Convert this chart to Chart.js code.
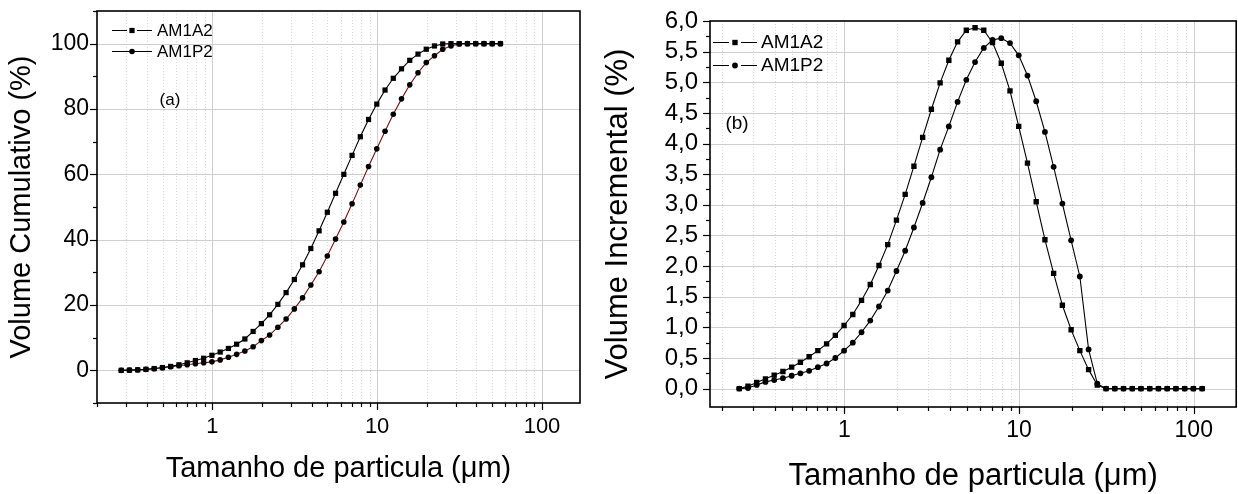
<!DOCTYPE html>
<html>
<head>
<meta charset="utf-8">
<script src="https://cdn.jsdelivr.net/npm/chart.js@4/dist/chart.umd.min.js"></script>
<style>
html,body{margin:0;padding:0;background:#fff;overflow:hidden;width:1238px;height:494px;}
#wa{position:absolute;left:0;top:0;width:600px;height:494px;}
#wb{position:absolute;left:600px;top:0;width:640px;height:494px;}
canvas{display:block;}
</style>
</head>
<body>
<div id="wa"><canvas id="ca" width="600" height="494"></canvas></div>
<div id="wb"><canvas id="cb" width="640" height="494"></canvas></div>
<script>
// ---------- data ----------
const seriesNames = ['AM1A2', 'AM1P2'];

// (a) cumulative volume
const sizesA = [0.2805, 0.3147, 0.3531, 0.3962, 0.4446, 0.4988, 0.5597, 0.6280, 0.7046, 0.7906,
  0.8871, 0.9953, 1.117, 1.253, 1.406, 1.577, 1.770, 1.986, 2.228, 2.500,
  2.805, 3.147, 3.531, 3.962, 4.446, 4.988, 5.597, 6.280, 7.046, 7.906,
  8.871, 9.953, 11.17, 12.53, 14.06, 15.77, 17.70, 19.86, 22.28, 25.00,
  28.05, 31.47, 35.31, 39.62, 44.46, 49.88, 55.97];
const cumAM1A2 = [0.0, 0.05, 0.15, 0.3, 0.55, 0.85, 1.2, 1.7, 2.3, 3.0,
  3.7, 4.6, 5.6, 6.7, 8.0, 9.6, 11.9, 14.3, 17.0, 20.2,
  23.8, 27.8, 32.3, 37.3, 42.7, 48.4, 54.2, 60.0, 65.8, 71.5,
  76.8, 81.5, 85.8, 89.4, 92.3, 94.9, 96.8, 98.3, 99.3, 99.9,
  100, 100, 100, 100, 100, 100, 100];
const cumAM1P2 = [0.0, 0.05, 0.15, 0.3, 0.5, 0.8, 1.1, 1.4, 1.7, 2.0,
  2.3, 2.6, 3.2, 4.0, 4.9, 5.9, 7.2, 9.1, 10.8, 13.2,
  15.7, 18.8, 22.2, 26.1, 30.2, 35.0, 40.2, 45.4, 51.0, 56.7,
  62.4, 67.8, 73.2, 78.4, 83.1, 87.4, 91.1, 94.2, 96.3, 98.3,
  99.3, 99.9, 100, 100, 100, 100, 100];

// (b) incremental volume
const sizesB = [0.25, 0.2805, 0.3147, 0.3531, 0.3962, 0.4446, 0.4988, 0.5597, 0.6280, 0.7046,
  0.7906, 0.8871, 0.9953, 1.117, 1.253, 1.406, 1.577, 1.770, 1.986, 2.228,
  2.500, 2.805, 3.147, 3.531, 3.962, 4.446, 4.988, 5.597, 6.280, 7.046,
  7.906, 8.871, 9.953, 11.17, 12.53, 14.06, 15.77, 17.70, 19.86, 22.28,
  25.00, 28.05, 31.47, 35.31, 39.62, 44.46, 49.88, 55.97, 62.80, 70.46,
  79.06, 88.71, 99.53, 111.7];
const incAM1A2 = [0.00, 0.04, 0.10, 0.16, 0.22, 0.28, 0.35, 0.43, 0.52, 0.62,
  0.73, 0.87, 1.03, 1.21, 1.44, 1.70, 2.01, 2.35, 2.75, 3.17,
  3.63, 4.10, 4.56, 4.99, 5.36, 5.66, 5.85, 5.89, 5.85, 5.65,
  5.31, 4.86, 4.28, 3.68, 3.05, 2.43, 1.88, 1.36, 0.96, 0.62,
  0.31, 0.06, 0, 0, 0, 0, 0, 0, 0, 0,
  0, 0, 0, 0];
const incAM1P2 = [0.00, 0.01, 0.06, 0.11, 0.14, 0.17, 0.21, 0.25, 0.29, 0.35,
  0.41, 0.50, 0.62, 0.75, 0.92, 1.11, 1.34, 1.60, 1.92, 2.25,
  2.63, 3.03, 3.45, 3.90, 4.28, 4.68, 5.04, 5.33, 5.56, 5.69,
  5.72, 5.64, 5.44, 5.11, 4.69, 4.19, 3.62, 3.02, 2.42, 1.83,
  0.64, 0.08, 0, 0, 0, 0, 0, 0, 0, 0,
  0, 0, 0, 0];

// axis ticks
const xTickValues = [0.2, 0.3, 0.4, 0.5, 0.6, 0.7, 0.8, 0.9, 1, 2, 3, 4, 5, 6, 7, 8, 9,
  10, 20, 30, 40, 50, 60, 70, 80, 90, 100];
const xTickLabels = [1, 10, 100];

// ---------- helpers ----------
const FONT = '"Liberation Sans", Arial, Helvetica, sans-serif';
const pts = (xs, ys) => xs.map((v, i) => ({x: v, y: ys[i]}));
const isMajorX = v => xTickLabels.some(m => Math.abs(m - v) < 1e-9);

function framePlugin(o) {
  return {
    id: 'frame_' + o.name,
    beforeDatasetsDraw(chart) {
      const {ctx, chartArea: a, scales: {x, y}} = chart;
      ctx.save();
      ctx.lineWidth = 1;
      x.ticks.forEach(t => {
        if (t.value <= x.min || t.value >= x.max) return;
        const p = Math.round(x.getPixelForValue(t.value)) + 0.5;
        const major = isMajorX(t.value);
        ctx.strokeStyle = major ? '#cfcfcf' : '#dcdcdc';
        ctx.setLineDash(major ? [] : [1, 2]);
        ctx.beginPath(); ctx.moveTo(p, a.top); ctx.lineTo(p, a.bottom); ctx.stroke();
      });
      ctx.setLineDash([]);
      ctx.strokeStyle = '#cfcfcf';
      y.ticks.forEach(t => {
        if (!o.isMajorY(t.value) || t.value <= y.min || t.value >= y.max) return;
        const p = Math.round(y.getPixelForValue(t.value)) + 0.5;
        ctx.beginPath(); ctx.moveTo(a.left, p); ctx.lineTo(a.right, p); ctx.stroke();
      });
      ctx.restore();
    },
    afterDatasetsDraw(chart) {
      const {ctx, chartArea: a, scales: {x, y}} = chart;
      ctx.save();
      ctx.strokeStyle = '#000';
      ctx.lineWidth = o.axisWidth;
      ctx.strokeRect(a.left, a.top, a.right - a.left, a.bottom - a.top);
      ctx.lineWidth = 1.2;
      x.ticks.forEach(t => {
        if (t.value < x.min || t.value > x.max) return;
        const p = Math.round(x.getPixelForValue(t.value)) + 0.5;
        const len = isMajorX(t.value) ? 7 : 4;
        ctx.beginPath(); ctx.moveTo(p, a.bottom); ctx.lineTo(p, a.bottom + len); ctx.stroke();
      });
      y.ticks.forEach(t => {
        if (t.value < y.min || t.value > y.max) return;
        const p = Math.round(y.getPixelForValue(t.value)) + 0.5;
        const len = o.isMajorY(t.value) ? 7 : 4;
        ctx.beginPath(); ctx.moveTo(a.left, p); ctx.lineTo(a.left - len, p); ctx.stroke();
      });
      // legend
      ctx.fillStyle = '#000';
      ctx.font = o.legend.size + 'px ' + FONT;
      ctx.textBaseline = 'middle';
      ctx.textAlign = 'left';
      chart.data.datasets.forEach((ds, i) => {
        const L = o.legend;
        const yy = L.y + i * L.dy;
        const xm = L.x + L.len / 2;
        ctx.strokeStyle = '#000';
        ctx.lineWidth = 1.2;
        ctx.beginPath();
        if (L.gap[i]) {
          ctx.moveTo(L.x, yy + 0.5); ctx.lineTo(xm - L.gap[i], yy + 0.5);
          ctx.moveTo(xm + L.gap[i], yy + 0.5); ctx.lineTo(L.x + L.len, yy + 0.5);
        } else {
          ctx.moveTo(L.x, yy + 0.5); ctx.lineTo(L.x + L.len, yy + 0.5);
        }
        ctx.stroke();
        if (ds.pointStyle === 'rect') {
          const s = ds.pointRadius * Math.SQRT1_2;
          ctx.fillRect(xm - s, yy + 0.5 - s, 2 * s, 2 * s);
        } else {
          ctx.beginPath(); ctx.arc(xm, yy + 0.5, ds.pointRadius, 0, Math.PI * 2); ctx.fill();
        }
        ctx.fillText(ds.label, L.x + L.len + L.textGap, yy + 1);
      });
      // panel tag
      ctx.font = o.tag.size + 'px ' + FONT;
      ctx.textAlign = 'center';
      ctx.fillText(o.tag.text, o.tag.x, o.tag.y);
      ctx.restore();
    }
  };
}

function makeChart(id, cfg) {
  return new Chart(document.getElementById(id), {
    type: 'line',
    data: {
      datasets: [
        {label: seriesNames[0], data: cfg.d1, borderColor: '#000', borderWidth: 1.1,
         pointStyle: 'rect', pointRadius: cfg.sq, pointBackgroundColor: '#000', pointBorderWidth: 0,
         pointHoverRadius: cfg.sq, tension: 0},
        {label: seriesNames[1], data: cfg.d2, borderColor: cfg.c2, borderWidth: 1.1,
         pointStyle: 'circle', pointRadius: cfg.ci, pointBackgroundColor: '#000', pointBorderWidth: 0,
         pointHoverRadius: cfg.ci, tension: 0}
      ]
    },
    options: {
      responsive: false,
      animation: false,
      events: [],
      layout: {padding: {top: cfg.padTop, right: cfg.padRight, left: 0, bottom: 0}},
      plugins: {legend: {display: false}, tooltip: {enabled: false}},
      scales: {
        x: {
          type: 'logarithmic', min: cfg.xmin, max: cfg.xmax,
          afterBuildTicks: s => { s.ticks = xTickValues.map(v => ({value: v})); },
          afterFit: s => { s.height = cfg.xAxisH; s.paddingLeft = 0; s.paddingRight = 0; },
          grid: {display: true, drawOnChartArea: false, drawTicks: false, color: 'rgba(0,0,0,0)'},
          border: {display: false},
          ticks: {autoSkip: false, maxRotation: 0, minRotation: 0, padding: cfg.xPad, color: '#000',
                  font: {family: FONT, size: cfg.xFont},
                  callback: v => isMajorX(v) ? String(v) : ''},
          title: {display: true, text: 'Tamanho de particula (\u03bcm)', color: '#000',
                  font: {family: FONT, size: cfg.titleFont, lineHeight: 1},
                  padding: {top: 0, bottom: cfg.xTitlePad}}
        },
        y: {
          type: 'linear', min: cfg.ymin, max: cfg.ymax,
          afterBuildTicks: s => { s.ticks = s.ticks.filter(t => Math.abs(t.value / cfg.yMinor - Math.round(t.value / cfg.yMinor)) < 1e-6); },
          afterFit: s => { s.width = cfg.yAxisW; s.paddingTop = 0; s.paddingBottom = 0; },
          grid: {display: true, drawOnChartArea: false, drawTicks: false, color: 'rgba(0,0,0,0)'},
          border: {display: false},
          ticks: {stepSize: cfg.yMinor, autoSkip: false, padding: cfg.yPad, color: '#000',
                  font: {family: FONT, size: cfg.yFont},
                  callback: v => cfg.isMajorY(v) ? cfg.fmtY(v) : ''},
          title: {display: true, text: cfg.yTitle, color: '#000',
                  font: {family: FONT, size: cfg.titleFont, lineHeight: 1},
                  padding: {top: cfg.yTitlePad, bottom: 0}}
        }
      }
    },
    plugins: [framePlugin({name: id, isMajorY: cfg.isMajorY, axisWidth: 1.6,
                           legend: cfg.legend, tag: cfg.tag})]
  });
}

const majA = v => Math.abs(v / 20 - Math.round(v / 20)) < 1e-6 && v >= 0 && v <= 100;
const majB = v => Math.abs(v * 2 - Math.round(v * 2)) < 1e-6 && v >= 0 && v <= 6;

makeChart('ca', {
  d1: pts(sizesA, cumAM1A2), d2: pts(sizesA, cumAM1P2), c2: '#7a1212',
  sq: 3.7, ci: 2.8,
  xmin: 0.2, xmax: 170, ymin: -10, ymax: 110, yMinor: 10,
  padTop: 11, padRight: 20, xAxisH: 91, yAxisW: 97,
  xFont: 22, yFont: 23, xPad: 11, yPad: 8, titleFont: 29, xTitlePad: 10.5, yTitlePad: 7,
  yTitle: 'Volume Cumulativo (%)',
  isMajorY: majA, fmtY: v => String(Math.round(v)),
  legend: {x: 112, y: 30, dy: 21, len: 40, gap: [5, 0], textGap: 5, size: 17},
  tag: {text: '(a)', x: 170, y: 100, size: 17}
});

makeChart('cb', {
  d1: pts(sizesB, incAM1A2), d2: pts(sizesB, incAM1P2), c2: '#000',
  sq: 3.8, ci: 2.9,
  xmin: 0.17, xmax: 175, ymin: -0.3, ymax: 6.0, yMinor: 0.25,
  padTop: 21, padRight: 0, xAxisH: 87, yAxisW: 110,
  xFont: 23, yFont: 24, xPad: 10, yPad: 12, titleFont: 31, xTitlePad: 2.5, yTitlePad: 2.5,
  yTitle: 'Volume Incremental (%)',
  isMajorY: majB, fmtY: v => v.toFixed(1).replace('.', ','),
  legend: {x: 113, y: 42, dy: 23, len: 44, gap: [6, 6], textGap: 4, size: 19},
  tag: {text: '(b)', x: 137, y: 124, size: 19}
});
</script>
</body>
</html>
